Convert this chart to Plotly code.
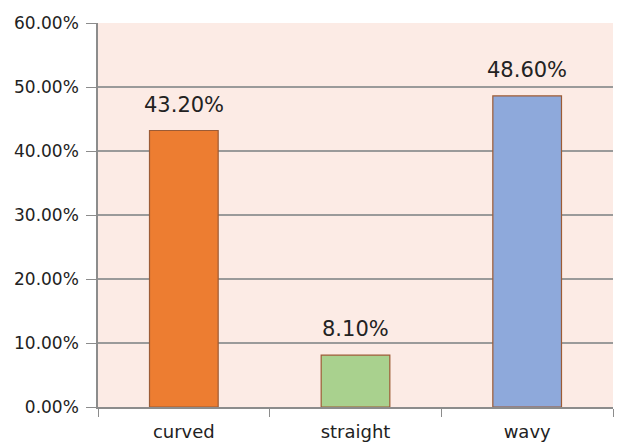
import plotly.graph_objects as go

categories = ["curved", "straight", "wavy"]
shares = [43.2, 8.1, 48.6]
bar_colors = ["#ED7D31", "#A9D18E", "#8EA9DB"]
y_ticks = [0, 10, 20, 30, 40, 50, 60]
y_tick_labels = ["0.00%", "10.00%", "20.00%", "30.00%", "40.00%", "50.00%", "60.00%"]

FONT = "DejaVu Sans, Verdana, sans-serif"

fig = go.Figure()
fig.add_trace(go.Bar(
    x=categories,
    y=shares,
    marker=dict(color=bar_colors, line=dict(color="#9C5B35", width=1.2)),
    width=0.4,
    hoverinfo="skip",
))

# value labels above each bar
for cat, val in zip(categories, shares):
    fig.add_annotation(
        x=cat, y=val, text=f"{val:.2f}%",
        showarrow=False, yanchor="bottom", yshift=12,
        font=dict(family=FONT, size=21, color="#222222"),
    )

fig.update_layout(
    width=621, height=444,
    margin=dict(l=98, r=8, t=23, b=37),
    paper_bgcolor="white",
    plot_bgcolor="#FCEBE5",
    showlegend=False,
    font=dict(family=FONT, size=17, color="#222222"),
)
fig.update_xaxes(
    showline=True, linecolor="#8C8C8C", linewidth=1.5,
    ticks="outside", ticklen=8, tickcolor="#8C8C8C", tickson="boundaries",
    showgrid=False, tickfont=dict(size=18), ticklabelstandoff=8,
    automargin=False,
)
fig.update_yaxes(
    range=[0, 60], tickvals=y_ticks, ticktext=y_tick_labels,
    showline=True, linecolor="#8C8C8C", linewidth=1.5,
    ticks="outside", ticklen=10, tickcolor="#8C8C8C",
    showgrid=True, gridcolor="#9A9A9A", gridwidth=1.5,
    zeroline=False, tickfont=dict(size=17), ticklabelstandoff=4,
    automargin=False,
)

fig.write_html("out.html")
